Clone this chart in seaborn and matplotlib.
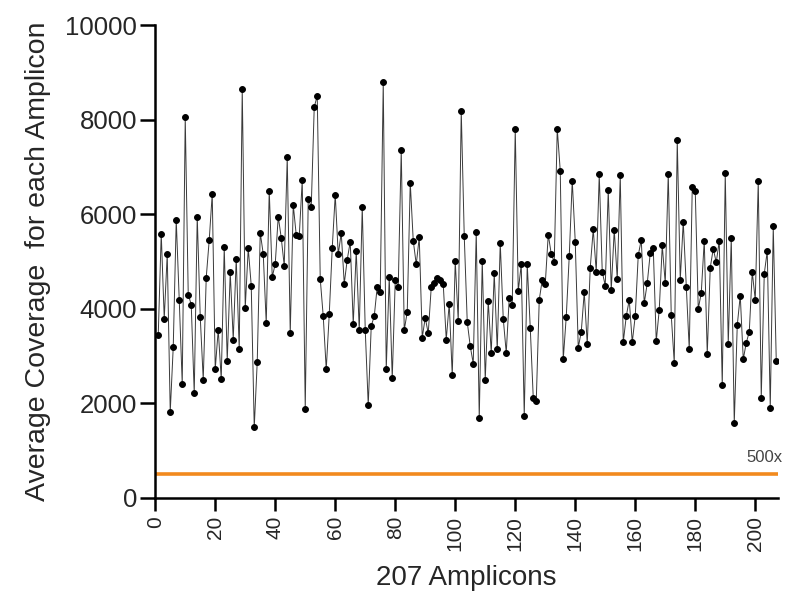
import matplotlib
matplotlib.use("Agg")
import matplotlib.pyplot as plt
import seaborn as sns
import numpy as np
import pandas as pd

coverage = [
    3440, 5590, 3790, 5160, 1820, 3190, 5880, 4190, 2410, 8050,
    4300, 4090, 2210, 5950, 3830, 2500, 4660, 5460, 6430, 2720,
    3560, 2510, 5300, 2900, 4770, 3350, 5060, 3140, 8650, 4020,
    5280, 4490, 1490, 2880, 5610, 5160, 3690, 6500, 4670, 4950,
    5950, 5500, 4910, 7200, 3480, 6200, 5560, 5530, 6720, 1890,
    6330, 6150, 8270, 8500, 4630, 3840, 2720, 3880, 5290, 6410,
    5150, 5610, 4530, 5040, 5420, 3670, 5230, 3550, 6150, 3550,
    1960, 3640, 3840, 4470, 4350, 8790, 2720, 4680, 2530, 4600,
    4470, 7360, 3550, 3930, 6670, 5440, 4940, 5510, 3390, 3810,
    3480, 4460, 4540, 4660, 4610, 4520, 3350, 4110, 2590, 5010,
    3740, 8190, 5540, 3720, 3210, 2840, 5630, 1680, 5020, 2500,
    4160, 3070, 4750, 3140, 5390, 3790, 3070, 4230, 4090, 7800,
    4370, 4940, 1730, 4940, 3600, 2120, 2040, 4190, 4610, 4520,
    5570, 5160, 4990, 7810, 6920, 2930, 3830, 5110, 6710, 5420,
    3180, 3510, 4350, 3250, 4870, 5680, 4780, 6840, 4780, 4490,
    6510, 4400, 5670, 4630, 6820, 3290, 3840, 4190, 3290, 3850,
    5130, 5460, 4120, 4540, 5180, 5290, 3310, 3980, 5340, 4540,
    6850, 3860, 2860, 7570, 4610, 5840, 4470, 3140, 6570, 6490,
    4000, 4330, 5440, 3040, 4870, 5270, 4980, 5440, 2380, 6870,
    3250, 5500, 1580, 3650, 4280, 2930, 3280, 3510, 4780, 4190,
    6700, 2120, 4740, 5220, 1900, 5740, 2900,
]
amplicon = list(range(1, len(coverage) + 1))
threshold = 500
threshold_label = "500x"
x_ticks = [0, 20, 40, 60, 80, 100, 120, 140, 160, 180, 200]
y_ticks = [0, 2000, 4000, 6000, 8000, 10000]

df = pd.DataFrame({"Amplicon": amplicon, "Coverage": coverage})

sns.set_style("ticks")
plt.rcParams["font.family"] = ["Liberation Sans", "DejaVu Sans"]

fig = plt.figure(figsize=(7.88, 5.97), dpi=100)
ax = fig.add_axes([0.197, 0.166, 0.790, 0.792])

ax.axhline(threshold, color="#F28A1E", linewidth=2.6, zorder=1)

sns.lineplot(data=df, x="Amplicon", y="Coverage", ax=ax, color="#3a3a3a",
             linewidth=0.7, marker="o", markersize=4.2, markerfacecolor="black",
             markeredgecolor="black", zorder=3)

ax.set_xlim(0, 207.5)
ax.set_ylim(0, 10000)
ax.set_xticks(x_ticks)
ax.set_yticks(y_ticks)
ax.set_xticklabels([str(t) for t in x_ticks], rotation=90, fontsize=15)
ax.set_yticklabels([str(t) for t in y_ticks], fontsize=18.5)
ax.tick_params(axis="both", direction="out", width=1.8, color="black")
ax.tick_params(axis="y", length=11, pad=2)
ax.tick_params(axis="x", length=9, pad=4)

for side in ["left", "bottom"]:
    ax.spines[side].set_linewidth(1.8)
    ax.spines[side].set_color("black")
sns.despine(ax=ax)

ax.text(209, 700, threshold_label, fontsize=12, color="#444444",
        ha="right", va="bottom", clip_on=False)

ax.set_xlabel("207 Amplicons", fontsize=20, labelpad=10)
ax.set_ylabel("Average Coverage  for each Amplicon", fontsize=20.5, labelpad=10)

fig.savefig("out.png", dpi=100, facecolor="white")
